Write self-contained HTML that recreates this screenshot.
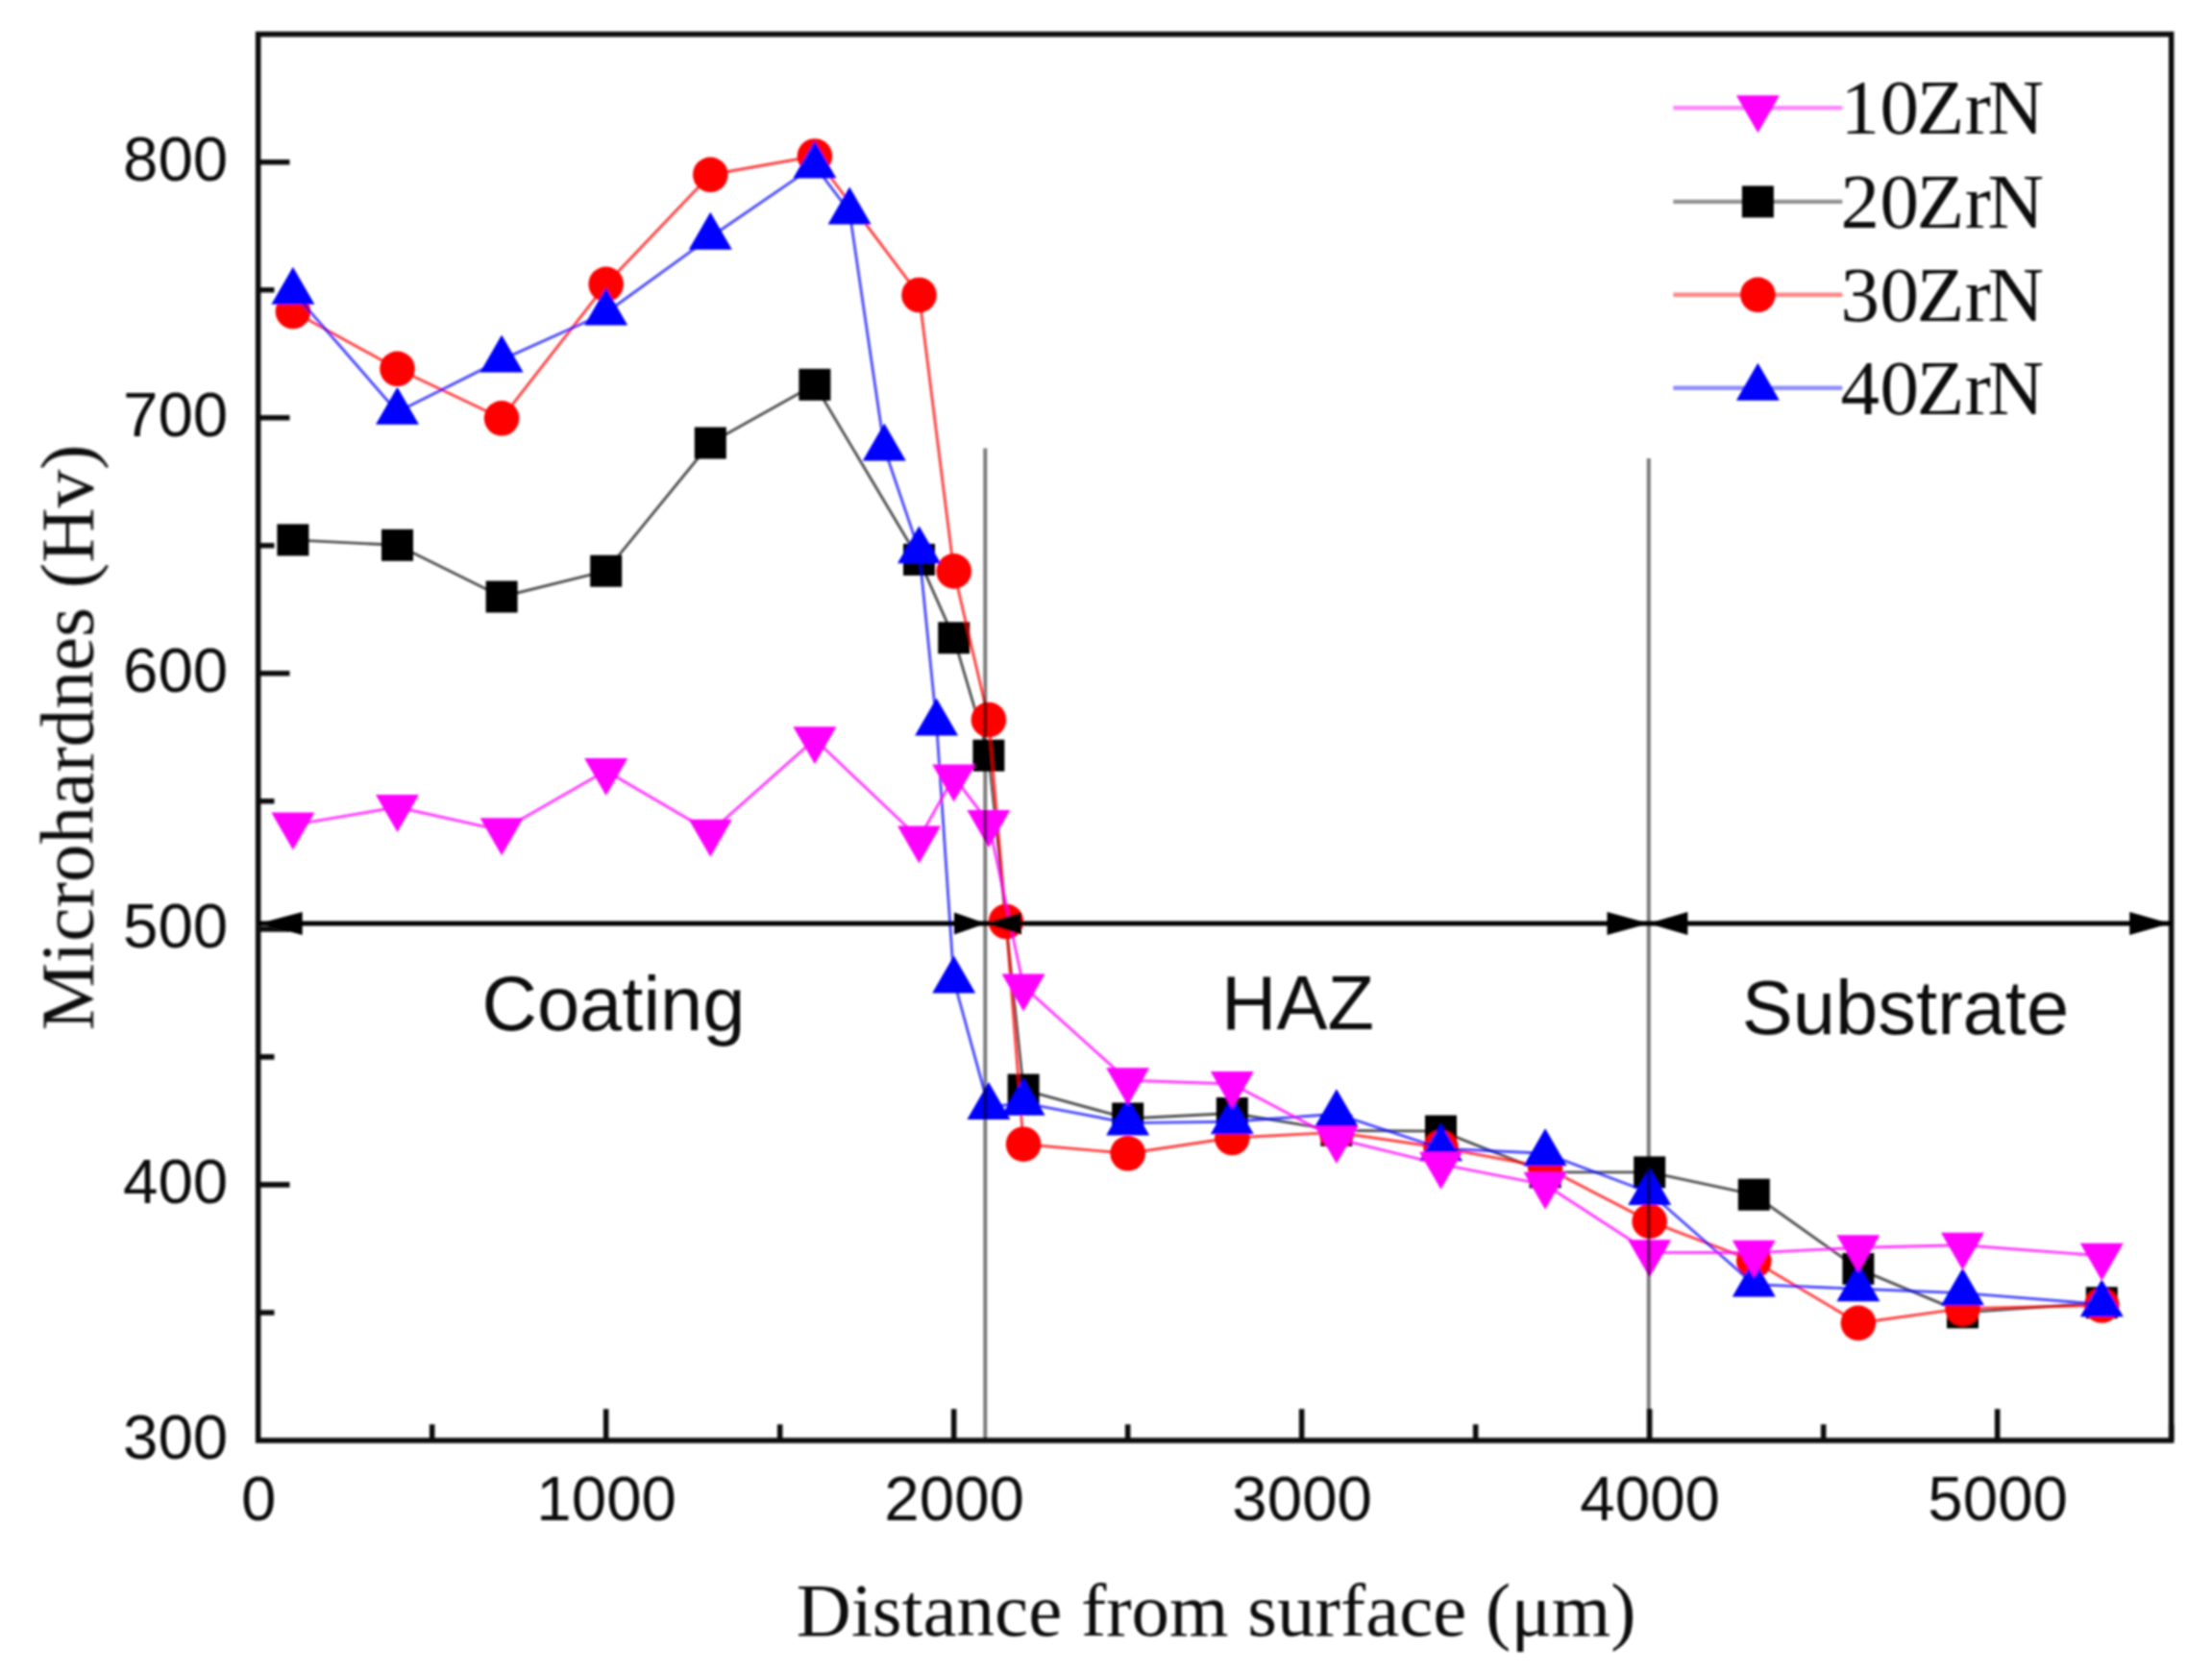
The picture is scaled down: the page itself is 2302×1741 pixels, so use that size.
<!DOCTYPE html>
<html lang="en">
<head>
<meta charset="utf-8">
<title>Microhardness profile</title>
<style>
html,body{margin:0;padding:0;background:#fff;}
body{width:2302px;height:1741px;}
svg{display:block;}
.sans{font-family:"Liberation Sans",Arial,Helvetica,sans-serif;}
.serif{font-family:"Liberation Serif","Times New Roman",Times,serif;}
</style>
</head>
<body>
<svg width="2302" height="1741" viewBox="0 0 2302 1741">
<defs><filter id="soft" x="-2%" y="-2%" width="104%" height="104%"><feGaussianBlur stdDeviation="1.0"/></filter></defs>
<rect x="0" y="0" width="2302" height="1741" fill="#ffffff"/>
<g filter="url(#soft)">
<!-- 20ZrN -->
<polyline points="304.9,561.9 413.5,567.3 522.1,621 630.7,594.2 739.3,461 847.9,400.3 956.5,582.4 992.7,663.8 1028.9,786.2 1065.1,1134.1 1173.7,1164 1282.3,1158.5 1390.9,1176.4 1499.5,1177.1 1608.1,1219.9 1716.7,1219.9 1825.3,1243.2 1933.9,1320.4 2042.5,1365.8 2187.3,1355.7" fill="none" stroke="#000000" stroke-opacity="0.68" stroke-width="2.9" stroke-linejoin="round"/>
<g fill="#000000"><rect x="288.4" y="545.4" width="33" height="33"/><rect x="397" y="550.8" width="33" height="33"/><rect x="505.6" y="604.5" width="33" height="33"/><rect x="614.2" y="577.7" width="33" height="33"/><rect x="722.8" y="444.5" width="33" height="33"/><rect x="831.4" y="383.8" width="33" height="33"/><rect x="940" y="565.9" width="33" height="33"/><rect x="976.2" y="647.3" width="33" height="33"/><rect x="1012.4" y="769.7" width="33" height="33"/><rect x="1048.6" y="1117.6" width="33" height="33"/><rect x="1157.2" y="1147.5" width="33" height="33"/><rect x="1265.8" y="1142" width="33" height="33"/><rect x="1374.4" y="1159.9" width="33" height="33"/><rect x="1483" y="1160.6" width="33" height="33"/><rect x="1591.6" y="1203.4" width="33" height="33"/><rect x="1700.2" y="1203.4" width="33" height="33"/><rect x="1808.8" y="1226.7" width="33" height="33"/><rect x="1917.4" y="1303.9" width="33" height="33"/><rect x="2026" y="1349.3" width="33" height="33"/><rect x="2170.8" y="1339.2" width="33" height="33"/></g>
<!-- 30ZrN -->
<polyline points="304.9,324 413.5,383.8 522.1,435.3 630.7,295.8 739.3,181.8 847.9,162.5 956.5,307 992.7,594.4 1028.9,749 1047,959 1065.1,1190.7 1173.7,1200.3 1282.3,1184 1390.9,1178.4 1499.5,1194.2 1608.1,1214.6 1716.7,1270.9 1825.3,1312.2 1933.9,1376.8 2042.5,1361.6 2187.3,1358.5" fill="none" stroke="#ff0000" stroke-opacity="0.74" stroke-width="2.9" stroke-linejoin="round"/>
<g fill="#ff0000"><circle cx="304.9" cy="324" r="18.3"/><circle cx="413.5" cy="383.8" r="18.3"/><circle cx="522.1" cy="435.3" r="18.3"/><circle cx="630.7" cy="295.8" r="18.3"/><circle cx="739.3" cy="181.8" r="18.3"/><circle cx="847.9" cy="162.5" r="18.3"/><circle cx="956.5" cy="307" r="18.3"/><circle cx="992.7" cy="594.4" r="18.3"/><circle cx="1028.9" cy="749" r="18.3"/><circle cx="1047" cy="959" r="18.3"/><circle cx="1065.1" cy="1190.7" r="18.3"/><circle cx="1173.7" cy="1200.3" r="18.3"/><circle cx="1282.3" cy="1184" r="18.3"/><circle cx="1390.9" cy="1178.4" r="18.3"/><circle cx="1499.5" cy="1194.2" r="18.3"/><circle cx="1608.1" cy="1214.6" r="18.3"/><circle cx="1716.7" cy="1270.9" r="18.3"/><circle cx="1825.3" cy="1312.2" r="18.3"/><circle cx="1933.9" cy="1376.8" r="18.3"/><circle cx="2042.5" cy="1361.6" r="18.3"/><circle cx="2187.3" cy="1358.5" r="18.3"/></g>
<!-- 40ZrN -->
<polyline points="304.9,303.8 413.5,428.7 522.1,374.4 630.7,325.5 739.3,246.8 847.9,172.4 884.1,220.4 920.3,466.5 956.5,573.2 974.6,752.6 992.7,1020.4 1028.9,1152 1065.1,1147.8 1173.7,1168.6 1282.3,1167.2 1390.9,1159.2 1499.5,1195.2 1608.1,1200.3 1716.7,1241 1825.3,1336.6 1933.9,1341.3 2042.5,1345.6 2187.3,1357.3" fill="none" stroke="#0000ff" stroke-opacity="0.7" stroke-width="2.9" stroke-linejoin="round"/>
<g fill="#0000ff"><polygon points="304.9,277.8 282.4,316.8 327.4,316.8"/><polygon points="413.5,402.7 391,441.7 436,441.7"/><polygon points="522.1,348.4 499.6,387.4 544.6,387.4"/><polygon points="630.7,299.5 608.2,338.5 653.2,338.5"/><polygon points="739.3,220.8 716.8,259.8 761.8,259.8"/><polygon points="847.9,146.4 825.4,185.4 870.4,185.4"/><polygon points="884.1,194.4 861.6,233.4 906.6,233.4"/><polygon points="920.3,440.5 897.8,479.5 942.8,479.5"/><polygon points="956.5,547.2 934,586.2 979,586.2"/><polygon points="974.6,726.6 952.1,765.6 997.1,765.6"/><polygon points="992.7,994.4 970.2,1033.4 1015.2,1033.4"/><polygon points="1028.9,1126 1006.4,1165 1051.4,1165"/><polygon points="1065.1,1121.8 1042.6,1160.8 1087.6,1160.8"/><polygon points="1173.7,1142.6 1151.2,1181.6 1196.2,1181.6"/><polygon points="1282.3,1141.2 1259.8,1180.2 1304.8,1180.2"/><polygon points="1390.9,1133.2 1368.4,1172.2 1413.4,1172.2"/><polygon points="1499.5,1169.2 1477,1208.2 1522,1208.2"/><polygon points="1608.1,1174.3 1585.6,1213.3 1630.6,1213.3"/><polygon points="1716.7,1215 1694.2,1254 1739.2,1254"/><polygon points="1825.3,1310.6 1802.8,1349.6 1847.8,1349.6"/><polygon points="1933.9,1315.3 1911.4,1354.3 1956.4,1354.3"/><polygon points="2042.5,1319.6 2020,1358.6 2065,1358.6"/><polygon points="2187.3,1331.3 2164.8,1370.3 2209.8,1370.3"/></g>
<!-- 10ZrN -->
<polyline points="304.9,858.4 413.5,840 522.1,864.2 630.7,802.1 739.3,865.8 847.9,769.3 956.5,872.5 992.7,808.5 1028.9,856 1065.1,1026.4 1173.7,1124.3 1282.3,1128 1390.9,1185.1 1499.5,1211.7 1608.1,1232.8 1716.7,1303.3 1825.3,1303.7 1933.9,1298.3 2042.5,1295.7 2187.3,1306.8" fill="none" stroke="#ff00ff" stroke-opacity="0.76" stroke-width="2.9" stroke-linejoin="round"/>
<g fill="#ff00ff"><polygon points="304.9,884.4 282.4,845.4 327.4,845.4"/><polygon points="413.5,866 391,827 436,827"/><polygon points="522.1,890.2 499.6,851.2 544.6,851.2"/><polygon points="630.7,828.1 608.2,789.1 653.2,789.1"/><polygon points="739.3,891.8 716.8,852.8 761.8,852.8"/><polygon points="847.9,795.3 825.4,756.3 870.4,756.3"/><polygon points="956.5,898.5 934,859.5 979,859.5"/><polygon points="992.7,834.5 970.2,795.5 1015.2,795.5"/><polygon points="1028.9,882 1006.4,843 1051.4,843"/><polygon points="1065.1,1052.4 1042.6,1013.4 1087.6,1013.4"/><polygon points="1173.7,1150.3 1151.2,1111.3 1196.2,1111.3"/><polygon points="1282.3,1154 1259.8,1115 1304.8,1115"/><polygon points="1390.9,1211.1 1368.4,1172.1 1413.4,1172.1"/><polygon points="1499.5,1237.7 1477,1198.7 1522,1198.7"/><polygon points="1608.1,1258.8 1585.6,1219.8 1630.6,1219.8"/><polygon points="1716.7,1329.3 1694.2,1290.3 1739.2,1290.3"/><polygon points="1825.3,1329.7 1802.8,1290.7 1847.8,1290.7"/><polygon points="1933.9,1324.3 1911.4,1285.3 1956.4,1285.3"/><polygon points="2042.5,1321.7 2020,1282.7 2065,1282.7"/><polygon points="2187.3,1332.8 2164.8,1293.8 2209.8,1293.8"/></g>
<rect x="268.7" y="35.6" width="1991" height="1463.4" fill="none" stroke="#111" stroke-width="5.6"/>
<path d="M449.7 1499 v-16.8 M630.7 1499 v-32.8 M811.7 1499 v-16.8 M992.7 1499 v-32.8 M1173.7 1499 v-16.8 M1354.7 1499 v-32.8 M1535.7 1499 v-16.8 M1716.7 1499 v-32.8 M1897.7 1499 v-16.8 M2078.7 1499 v-32.8 M2259.7 1499 v-16.8 M268.7 1366 h16.8 M268.7 1232.9 h32.8 M268.7 1099.9 h16.8 M268.7 966.9 h32.8 M268.7 833.8 h16.8 M268.7 700.8 h32.8 M268.7 567.8 h16.8 M268.7 434.7 h32.8 M268.7 301.7 h16.8 M268.7 168.7 h32.8" fill="none" stroke="#111" stroke-width="5.6"/>
<g class="sans" font-size="65.5" fill="#111">
<text x="269.2" y="1582" text-anchor="middle">0</text><text x="631.2" y="1582" text-anchor="middle">1000</text><text x="993.2" y="1582" text-anchor="middle">2000</text><text x="1355.2" y="1582" text-anchor="middle">3000</text><text x="1717.2" y="1582" text-anchor="middle">4000</text><text x="2079.2" y="1582" text-anchor="middle">5000</text>
<text x="237.3" y="1518.2" text-anchor="end">300</text><text x="237.3" y="1252.1" text-anchor="end">400</text><text x="237.3" y="986.1" text-anchor="end">500</text><text x="237.3" y="720" text-anchor="end">600</text><text x="237.3" y="453.9" text-anchor="end">700</text><text x="237.3" y="187.9" text-anchor="end">800</text>
</g>
<text class="serif" font-size="79" fill="#111" x="1265.7" y="1701.5" text-anchor="middle">Distance from surface (μm)</text>
<text class="serif" font-size="79.3" fill="#111" transform="translate(96.5 767.4) rotate(-90)" text-anchor="middle">Microhardnes (Hv)</text>
<path d="M1025.3 466.5 V1499 M1715.8 477 V1499" fill="none" stroke="#000" stroke-opacity="0.52" stroke-width="4"/>
<path d="M268.7 960.9 H2259.7" fill="none" stroke="#000" stroke-width="5"/>
<g fill="#000"><polygon points="269.7,960.9 314.7,948.9 314.7,972.9"/><polygon points="1026,960.9 993,949.4 993,972.4"/><polygon points="1025,960.9 1063,949.4 1063,972.4"/><polygon points="1716,960.9 1672.5,948.9 1672.5,972.9"/><polygon points="1715.4,960.9 1756.4,948.9 1756.4,972.9"/><polygon points="2258.2,960.9 2216.2,948.9 2216.2,972.9"/></g>
<g class="sans" font-size="79.5" fill="#111"><text x="638.5" y="1072" text-anchor="middle">Coating</text><text x="1350.5" y="1071" text-anchor="middle">HAZ</text><text x="1983" y="1076" text-anchor="middle">Substrate</text></g>
<g class="serif" font-size="81" fill="#111">
<path d="M1741.3 112.2 H1917.3" stroke="#ff00ff" stroke-opacity="0.48" stroke-width="4.4" fill="none"/><g fill="#ff00ff"><polygon points="1829.4,138.2 1806.9,99.2 1851.9,99.2"/></g><text x="1915.4 1956.6 1994.8 2044.7 2068.4" y="139.2">10ZrN</text>
<path d="M1741.3 209.9 H1917.3" stroke="#000000" stroke-opacity="0.43" stroke-width="4.4" fill="none"/><g fill="#000000"><rect x="1812.9" y="193.4" width="33" height="33"/></g><text x="1915.4 1956.6 1994.8 2044.7 2068.4" y="236.9">20ZrN</text>
<path d="M1741.3 306.8 H1917.3" stroke="#ff0000" stroke-opacity="0.48" stroke-width="4.4" fill="none"/><g fill="#ff0000"><circle cx="1829.4" cy="306.8" r="18.3"/></g><text x="1915.4 1956.6 1994.8 2044.7 2068.4" y="333.8">30ZrN</text>
<path d="M1741.3 403.8 H1917.3" stroke="#0000ff" stroke-opacity="0.45" stroke-width="4.4" fill="none"/><g fill="#0000ff"><polygon points="1829.4,377.8 1806.9,416.8 1851.9,416.8"/></g><text x="1915.4 1956.6 1994.8 2044.7 2068.4" y="430.8">40ZrN</text>
</g>
</g>
</svg>
</body>
</html>
